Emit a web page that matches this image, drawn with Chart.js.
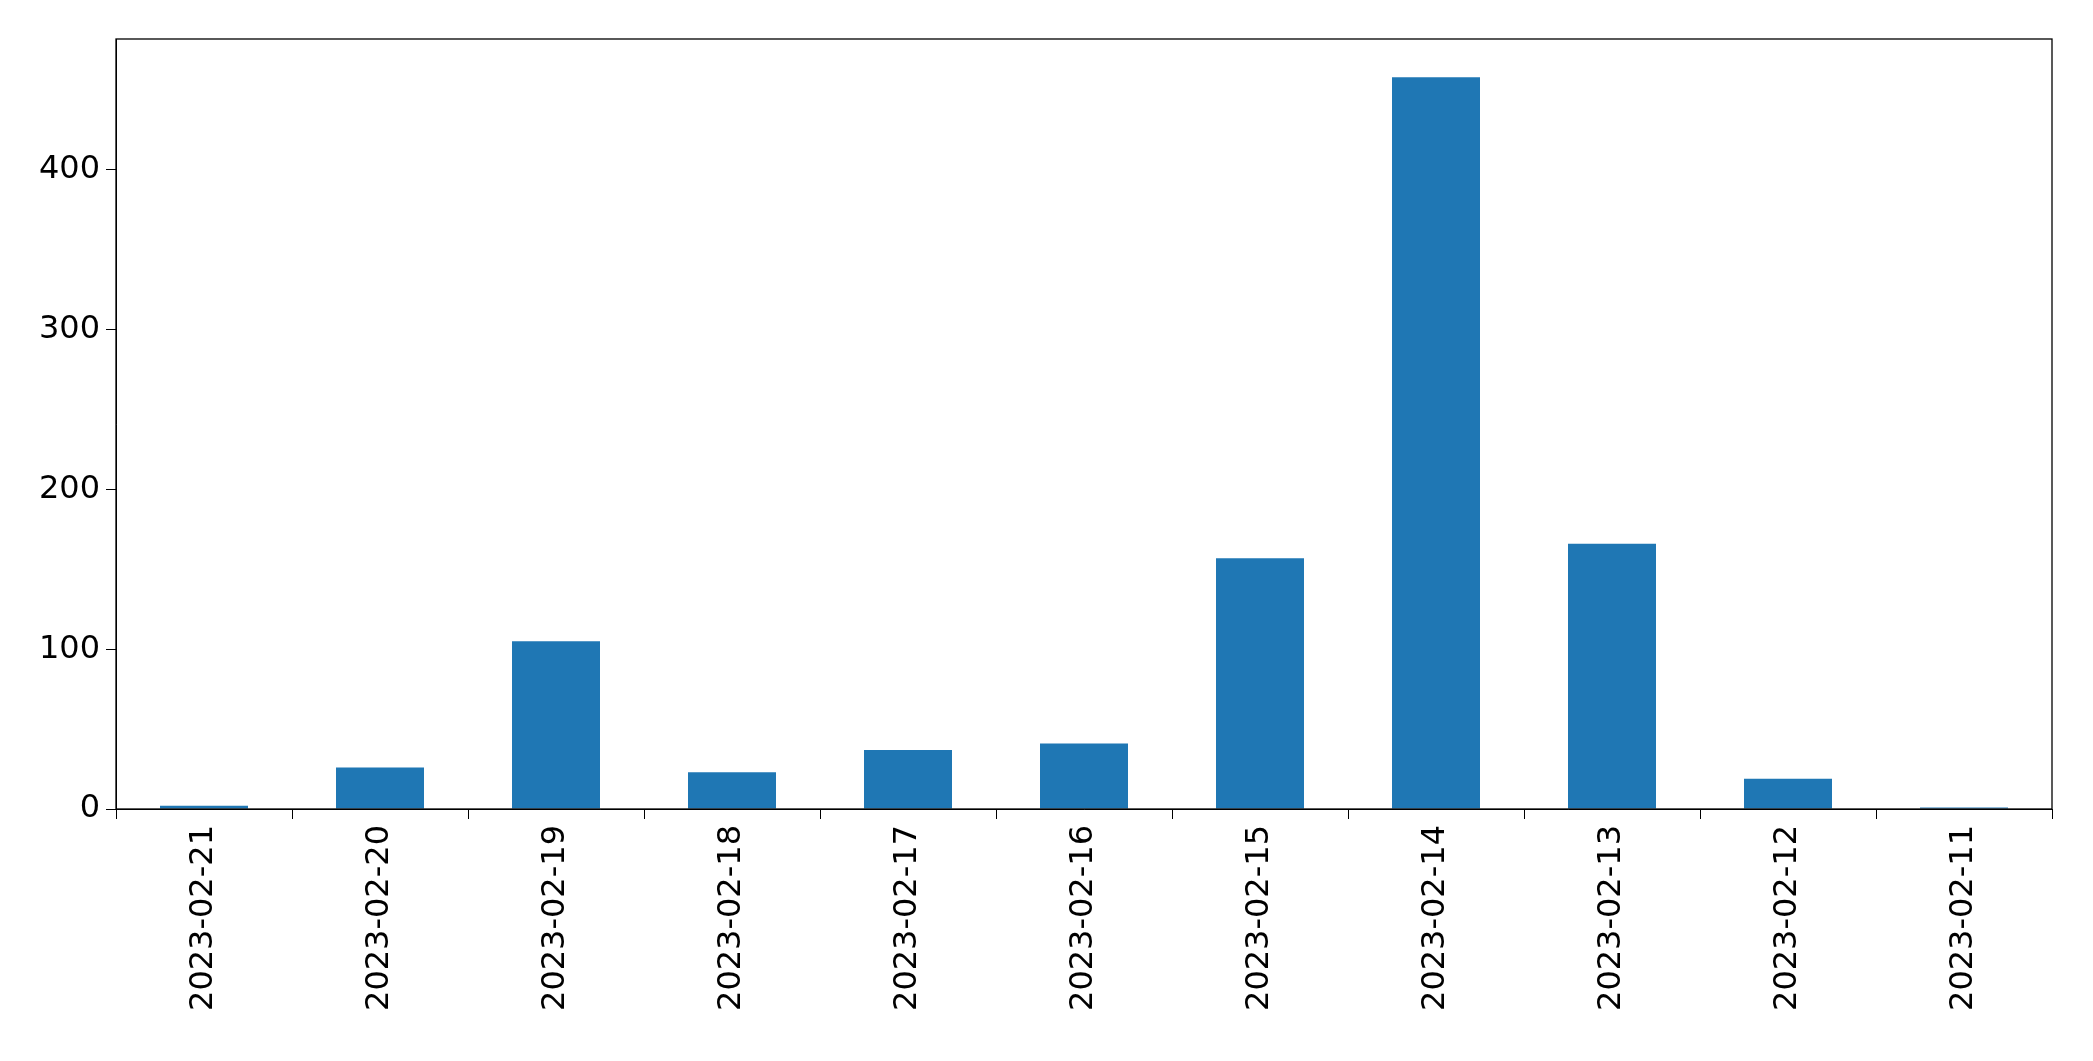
<!DOCTYPE html>
<html><head><script src="https://cdn.jsdelivr.net/npm/chart.js@4/dist/chart.umd.min.js"></script>
<style>html,body{margin:0;background:#fff}#w{width:2093px;height:1061px}</style></head>
<body><div id="w"><canvas id="c"></canvas></div>
<script>
const categories=["2023-02-21","2023-02-20","2023-02-19","2023-02-18","2023-02-17","2023-02-16","2023-02-15","2023-02-14","2023-02-13","2023-02-12","2023-02-11"];
const values=[2,26,105,23,37,41,157,458,166,19,1];
const yTicks=[0,100,200,300,400];
const border={id:'border',afterDraw(ch){const a=ch.chartArea,g=ch.ctx;g.save();g.strokeStyle='#000';g.lineWidth=1.3;g.strokeRect(a.left,a.top,a.right-a.left,a.bottom-a.top);g.restore();}};
new Chart(document.getElementById('c'),{type:'bar',
data:{labels:categories,datasets:[{data:values,backgroundColor:'#1f77b4',categoryPercentage:1,barPercentage:0.5}]},
options:{responsive:true,maintainAspectRatio:false,animation:false,
layout:{padding:{top:39,right:41,left:0,bottom:0}},
plugins:{legend:{display:false},tooltip:{enabled:false}},
scales:{
x:{offset:true,grid:{display:true,drawOnChartArea:false,tickLength:10,color:'#000'},border:{color:'#000'},
ticks:{color:'#000',font:{family:'DejaVu Sans',size:32},maxRotation:90,minRotation:90,padding:6},
afterFit(s){s.height=252;}},
y:{min:0,max:482,grid:{display:true,drawOnChartArea:false,tickLength:10,color:'#000'},border:{color:'#000'},
afterBuildTicks(s){s.ticks=yTicks.map(v=>({value:v}));},
ticks:{color:'#000',font:{family:'DejaVu Sans',size:32},padding:6},
afterFit(s){s.width=116;}}}},
plugins:[border]});
</script></body></html>
